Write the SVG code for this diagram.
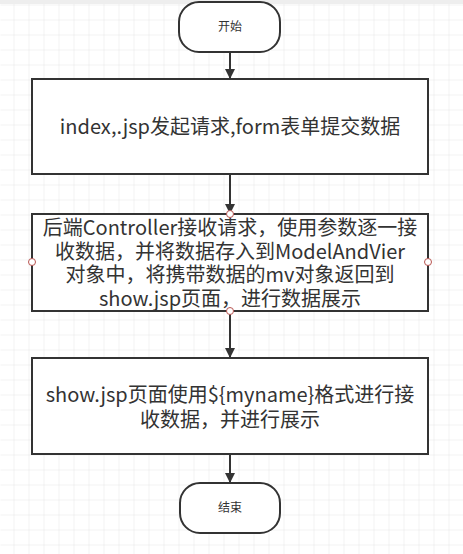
<svg xmlns="http://www.w3.org/2000/svg" width="463" height="554" viewBox="0 0 463 554">
<defs>
<pattern id="grid" x="13" y="4" width="15" height="15" patternUnits="userSpaceOnUse">
<path d="M0 0H15M0 0V15" fill="none" stroke="#e6e6e6" stroke-width="1"/>
</pattern>
<marker id="arr" viewBox="0 0 10 10" refX="10" refY="5" markerWidth="10" markerHeight="10" markerUnits="userSpaceOnUse" orient="auto">
<path d="M0 0L10 5L0 10Z" fill="#333"/>
</marker>
</defs>
<style>
.box{fill:#fff;stroke:#333;stroke-width:2}
.t{font-family:"Microsoft YaHei","Noto Sans CJK SC",sans-serif;fill:#333;text-anchor:middle}
.big{font-size:20px}
.small{font-size:12px}
.edge{stroke:#333;stroke-width:2;fill:none;marker-end:url(#arr)}
.pt{fill:#fff;stroke:#b85450;stroke-width:1}
</style>
<rect width="463" height="554" fill="#fff"/>
<rect x="0" y="0" width="463" height="554" fill="url(#grid)" transform="translate(0.5 0.5)"/>
<rect x="0" y="0" width="463" height="4" fill="#eeeeee"/>
<g id="connectors">
<path class="edge" d="M230 52V79"/>
<path class="edge" d="M230 174V214"/>
<path class="edge" d="M230 311V358"/>
<path class="edge" d="M230 454V483"/>
</g>
<g id="start">
<rect class="box" x="179" y="2" width="101" height="50" rx="20"/>
<text class="t small" x="230" y="31">开始</text>
</g>
<g id="step1">
<rect class="box" x="32" y="79" width="396" height="95"/>
<text class="t big" x="230" y="134">index,.jsp发起请求,form表单提交数据</text>
</g>
<g id="step2">
<rect class="box" x="32" y="214" width="396" height="97"/>
<text class="t big" x="230" y="235">后端Controller接收请求，使用参数逐一接</text>
<text class="t big" x="230" y="259">收数据，并将数据存入到ModelAndVier</text>
<text class="t big" x="230" y="282">对象中，将携带数据的mv对象返回到</text>
<text class="t big" x="230" y="306">show.jsp页面，进行数据展示</text>
<circle class="pt" cx="230" cy="214" r="3.5"/>
<circle class="pt" cx="32" cy="262" r="3.5"/>
<circle class="pt" cx="428" cy="262" r="3.5"/>
<circle class="pt" cx="230" cy="311" r="3.5"/>
</g>
<g id="step3">
<rect class="box" x="32" y="358" width="396" height="96"/>
<text class="t big" x="230" y="402">show.jsp页面使用${myname}格式进行接</text>
<text class="t big" x="230" y="427">收数据，并进行展示</text>
</g>
<g id="end">
<rect class="box" x="180" y="483" width="100" height="50" rx="20"/>
<text class="t small" x="230" y="512">结束</text>
</g>
</svg>
